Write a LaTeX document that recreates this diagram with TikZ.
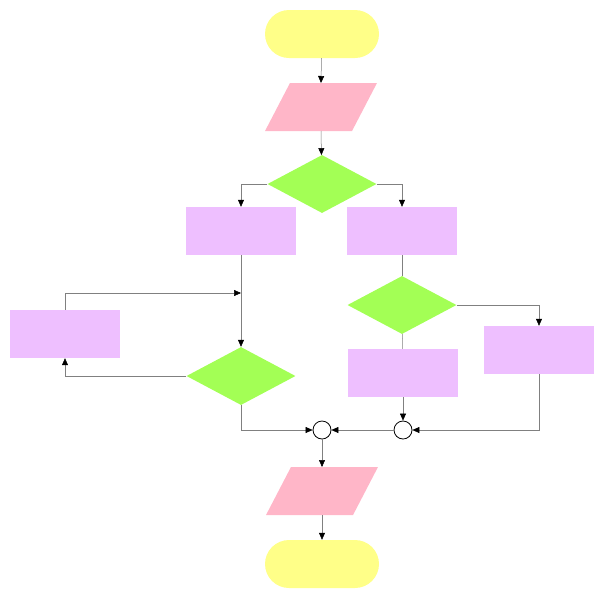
\documentclass[tikz,border=0pt]{standalone}
\usetikzlibrary{shapes.geometric,shapes.misc,arrows.meta}
\definecolor{termc}{HTML}{FFFF88}
\definecolor{ioc}{HTML}{FFB6C8}
\definecolor{decc}{HTML}{A3FF55}
\definecolor{procc}{HTML}{EEBFFF}
\tikzset{
  term/.style={rounded rectangle,fill=termc,minimum width=114pt,minimum height=48pt,inner sep=0pt},
  io/.style={rectangle,fill=ioc,minimum width=87pt,minimum height=48pt,inner sep=0pt,xslant=0.52,transform shape},
  dec/.style={diamond,fill=decc,minimum width=109pt,minimum height=58pt,inner sep=0pt},
  proc/.style={rectangle,fill=procc,minimum width=110pt,minimum height=48pt,inner sep=0pt},
  merge/.style={circle,draw=black,thick,minimum size=18pt,inner sep=0pt},
  link/.style={draw=gray,line width=0.5pt,-{Triangle[black,length=7pt,width=6pt]}},
  plain/.style={draw=gray,line width=0.5pt}
}
\begin{document}
\begin{tikzpicture}[x=1pt,y=-1pt]
\useasboundingbox (0,0) rectangle (604,600);
% Shapes
\node[term] (start) at (322,34) {};
\node[io] (input) at (321,107) {};
\node[dec] (check) at (322,184) {};
\node[proc] (procL) at (241,231) {};
\node[proc] (procR) at (402,231) {};
\node[dec] (loop) at (241,376) {};
\node[proc] (body) at (65,334) {};
\node[dec] (checkR) at (402,305) {};
\node[proc] (procRR) at (539,350) {};
\node[proc] (procRD) at (403,373) {};
\node[merge] (joinR) at (403,430) {};
\node[merge] (joinL) at (322,430) {};
\node[io] (output) at (322,491) {};
\node[term] (stop) at (322,564) {};
\coordinate (back) at (241,293);

% Connectors
\draw[link] (start) -- (input.center |- 0,83);
\draw[link] (input.center |- 0,131) -- (check);
\draw[link] (check.west) -| (procL);
\draw[link] (check.east) -| (procR);
\draw[link] (procL) -- (loop);
\draw[link] (loop.west) -| (body);
\draw[link] (body) |- (back);
\draw[plain] (procR) -- (checkR);
\draw[link] (checkR.east) -| (procRR);
\draw[plain] (checkR) -- (procRD);
\draw[link] (procRD) -- (joinR);
\draw[link] (procRR) |- (joinR);
\draw[link] (joinR) -- (joinL);
\draw[link] (loop.south) |- (joinL);
\draw[link] (joinL) -- (output.center |- 0,467);
\draw[link] (output.center |- 0,515) -- (stop);
\end{tikzpicture}
\end{document}
